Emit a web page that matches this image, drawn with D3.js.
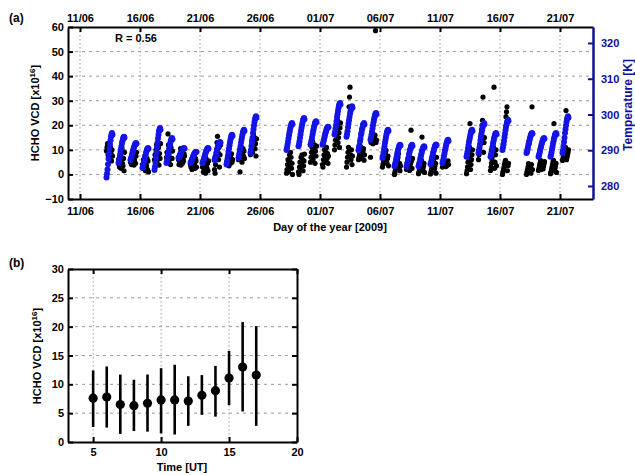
<!DOCTYPE html>
<html><head><meta charset="utf-8">
<script src="https://cdn.jsdelivr.net/npm/d3@7"></script>
<style>
body{margin:0;background:#fff;}
text{font-family:"Liberation Sans",Arial,sans-serif;font-weight:bold;}
</style>
</head><body>
<svg id="c" width="635" height="475"></svg>
<script>
// ---------- DATA ----------
const dayDates = ["2009-06-13","2009-06-14","2009-06-15","2009-06-16","2009-06-17","2009-06-18","2009-06-19","2009-06-20","2009-06-21","2009-06-22","2009-06-23","2009-06-24","2009-06-25",
"2009-06-28","2009-06-29","2009-06-30","2009-07-01","2009-07-02","2009-07-03","2009-07-04","2009-07-05","2009-07-06","2009-07-07","2009-07-08","2009-07-09","2009-07-10","2009-07-11",
"2009-07-13","2009-07-14","2009-07-15","2009-07-16","2009-07-18","2009-07-19","2009-07-20","2009-07-21"];
const hoursOfDay = [5,6,7,8,9,10,11,12,13,14,15,16,17];
const hchoVCD = [
[9.5,11,12.5,8,10,7,9,6,11,8.5,5.5,10,7.5],
[6,4,3,8,5,2.5,7,10.5,4.5,3.5,6.5,1.5,9],
[5,6.5,4,8,9.5,5.5,7,3.8,6,8.5,4.5,7.5,9],
[4,2.5,6,3,5,7.5,1.5,4.5,3.5,6.5,2,5.5,1],
[6,8,4,10,12,5,9,7,11,3.8,8.5,6.5,12.5],
[7,9,5,16.5,12,8,6,10,4,11,14,6.5,9.5],
[6,4,8,5,10.5,3.8,7,9,4.5,6.5,5.5,8.5,7.5],
[4,3,6,2,5,7.5,3.5,8,4.5,2.5,6.5,5.5,3],
[3,5,1,6,2,4,0.5,6.5,3.5,2.5,4.5,1.5,5.5],
[2,0.5,4,7,10,13,15.5,9,6,11,3,8,12],
[5,4,7,6,8,3.5,5.5,7.5,4.5,6.5,8.4,5,6],
[6,8,10,1,7,9,11,5,8.5,10.5,7.5,9.5,6.5],
[8,10,12,14,9,11,16.5,13,15,10.5,12.5,7.5,14.5],
[0.5,2,4,6,1,3,8,5,9,7,2.5,4.5,0],
[1,0,3,5,2,7,4,8,6,1.5,3.5,5.5,8.3],
[5,7,9,11,13.5,6,8,10,12,4.5,9.5,7.5,11.5],
[4,3,6,8,10,5,7,9,11,6.5,8.5,4.5,7.5],
[10,12,14,16,18,20,22,13,15,17,11,19,21],
[3,5,7,9,11,27.5,31.5,35.5,8,6,10,4,7.5],
[6,7,8,9,10,11,6.5,7.5,8.5,9.5,10.5,5.8,8],
[7,13,14,15,16.5,12.5,13.5,14.5,15.5,16,58.5,13,14],
[3,4,5,6,7,8,9,9.8,5.5,4.5,6.5,7.5,3.5],
[0,1,2,3,4,5,6,7,8.4,2.5,4.5,1.5,3.5],
[2,3,4,5,6,7,1.6,3.5,4.5,18,5.5,2.5,6.5],
[0.3,1,2,3,4,5,5.7,15.2,1.5,2.5,3.5,4.5,0.8],
[0.2,1,2,3,4,5,6,1.5,2.5,3.5,4.5,0.5,7],
[3,4,5,5.7,3.5,4.5,5.2,3.2,4.2,4.8,3.8,5.5,4],
[0.3,1.5,3,5,7,9,11,20.7,2,4,6,8,10],
[6,8,10,12,14,16,18,20,22,31.5,9,13,15],
[1.6,3,4.5,6,7.5,9,11,35.5,2.5,5,8,10,3.5],
[0,1,2,3,4,5,5.7,23.5,25.5,27.5,1.5,3.5,4.5],
[0,1,2,3,4.4,12.5,1.5,2.5,3.5,0.5,4,27.5,2],
[1.6,2.5,3.5,4.5,5.7,2,3,4,5,2.2,3.2,4.2,5.2],
[0.3,1,2,3,4,5,5.7,20.7,1.5,2.5,3.5,4.5,0.8],
[5.7,6.5,7.5,8.5,9.5,10.5,11,26,6,7,8,9,10]
];
const temperatureK = [
[282.4,283.4,284.6,286.1,287.6,289.1,290.5,291.7,292.8,293.8,294.4,294.8,294.3],
[286.4,287.0,287.7,288.6,289.5,290.4,291.2,292.0,292.6,293.2,293.6,293.8,293.5],
[287.3,287.7,288.1,288.7,289.3,289.8,290.4,290.8,291.2,291.6,291.9,292.0,291.8],
[285.0,285.4,286.0,286.7,287.4,288.0,288.6,289.2,289.7,290.2,290.4,290.6,290.4],
[284.5,285.4,286.6,288.0,289.4,290.8,292.1,293.3,294.3,295.3,295.8,296.2,295.7],
[286.4,287.0,287.7,288.5,289.3,290.2,291.0,291.7,292.3,292.8,293.2,293.4,293.1],
[287.8,288.0,288.3,288.6,289.0,289.3,289.6,289.9,290.2,290.4,290.5,290.6,290.5],
[286.4,286.7,287.0,287.4,287.7,288.1,288.5,288.8,289.1,289.3,289.5,289.6,289.5],
[286.4,286.7,287.2,287.7,288.2,288.7,289.1,289.6,289.9,290.3,290.5,290.6,290.4],
[287.3,287.7,288.2,288.8,289.4,290.0,290.6,291.1,291.5,291.9,292.2,292.3,292.1],
[286.0,286.7,287.5,288.5,289.5,290.5,291.4,292.2,293.0,293.6,294.1,294.3,294.0],
[287.8,288.4,289.2,290.2,291.1,292.1,292.9,293.7,294.4,295.1,295.5,295.7,295.4],
[289.2,290.0,291.1,292.3,293.5,294.8,295.9,296.9,297.9,298.7,299.2,299.5,299.1],
[290.1,290.7,291.5,292.4,293.3,294.2,295.0,295.7,296.4,297.0,297.4,297.6,297.3],
[291.1,291.7,292.5,293.5,294.4,295.4,296.2,297.0,297.7,298.4,298.8,299.0,298.7],
[291.5,292.0,292.7,293.5,294.3,295.1,295.8,296.5,297.0,297.6,297.9,298.1,297.8],
[291.5,291.9,292.4,293.0,293.6,294.3,294.8,295.3,295.8,296.2,296.4,296.6,296.4],
[294.4,295.1,296.0,297.0,298.1,299.2,300.1,301.0,301.8,302.5,302.9,303.2,302.8],
[293.8,294.5,295.3,296.4,297.4,298.4,299.3,300.2,300.9,301.6,302.0,302.3,301.9],
[290.0,290.8,291.4,292.5,293.2,294.3,294.9,295.8,296.3,297.1,297.3,297.6,297.2],
[292.9,293.5,294.3,295.2,296.1,297.0,297.8,298.5,299.2,299.8,300.2,300.4,300.1],
[287.8,288.4,289.2,290.2,291.1,292.1,292.9,293.7,294.4,295.1,295.5,295.7,295.4],
[285.5,286.0,286.6,287.3,288.0,288.7,289.4,290.0,290.5,291.0,291.3,291.5,291.3],
[285.4,286.1,286.5,287.4,287.9,288.8,289.3,290.1,290.4,291.1,291.2,291.5,291.2],
[285.5,286.0,286.5,287.2,287.9,288.5,289.1,289.7,290.2,290.6,290.9,291.1,290.9],
[286.1,286.5,287.1,287.8,288.4,289.1,289.7,290.2,290.7,291.2,291.4,291.6,291.4],
[286.4,286.9,287.6,288.4,289.1,289.9,290.6,291.3,291.9,292.4,292.7,292.9,292.6],
[288.2,288.8,289.6,290.5,291.4,292.3,293.1,293.8,294.5,295.1,295.5,295.7,295.4],
[289.2,289.9,290.7,291.7,292.7,293.7,294.7,295.5,296.3,296.9,297.3,297.6,297.3],
[288.2,288.7,289.4,290.2,291.0,291.8,292.5,293.2,293.7,294.3,294.6,294.8,294.5],
[290.1,290.8,291.6,292.6,293.6,294.6,295.6,296.4,297.2,297.8,298.2,298.5,298.2],
[289.2,289.6,290.2,290.9,291.6,292.2,292.8,293.4,293.9,294.4,294.6,294.8,294.6],
[288.2,288.6,289.1,289.8,290.4,291.0,291.6,292.1,292.6,293.0,293.2,293.4,293.2],
[288.2,288.7,289.4,290.2,291.0,291.8,292.5,293.2,293.7,294.3,294.6,294.8,294.5],
[289.2,290.0,291.1,292.3,293.5,294.8,295.9,296.9,297.9,298.7,299.2,299.5,299.1]
];
const dateTicks = ["2009-06-11","2009-06-16","2009-06-21","2009-06-26","2009-07-01","2009-07-06","2009-07-11","2009-07-16","2009-07-21"];
const hchoTicks = [-10,0,10,20,30,40,50,60];
const tempTicks = [280,290,300,310,320];
const correlationLabel = "R = 0.56";

// panel (b)
const hourUT = [5,6,7,8,9,10,11,12,13,14,15,16,17];
const meanVCD = [7.6,7.8,6.5,6.3,6.7,7.3,7.3,7.1,8.1,8.9,11.1,13.0,11.6];
const lowVCD  = [2.6,2.5,1.4,1.9,1.8,1.5,1.3,2.8,4.7,4.4,6.4,5.3,2.8];
const highVCD = [12.4,13.1,11.7,10.8,11.7,12.8,13.4,11.4,11.6,13.2,15.8,20.8,20.1];
const timeTicks = [5,10,15,20];
const vcdTicks = [0,5,10,15,20,25,30];

// ---------- DRAW ----------
const svg = d3.select("#c");
const parse = d3.utcParse("%Y-%m-%d");
const fmt = d3.utcFormat("%d/%m");
const t0 = Date.UTC(2009,0,1);
const doy = s => (parse(s) - t0)/864e5 + 1;

const BLUE = "#1414e6", AXBLUE = "#10109a", GRID = "#9a9a9a";

// Panel (a)
const A = {l:68, r:593, t:27, b:199};
const x = d3.scaleLinear().domain([161, 204.75]).range([A.l, A.r]);
const y = d3.scaleLinear().domain([-10, 60]).range([A.b, A.t]);
const yT = d3.scaleLinear().domain([276.36, 324.47]).range([A.b, A.t]);
const tickDoys = dateTicks.map(doy);

const gA = svg.append("g");
// grid
gA.selectAll(".gx").data(tickDoys).join("line")
  .attr("x1", d=>x(d)).attr("x2", d=>x(d)).attr("y1", A.t).attr("y2", A.b)
  .attr("stroke", GRID).attr("stroke-width",1).attr("stroke-dasharray","1.5,2.5");
gA.selectAll(".gy").data(hchoTicks.filter(v=>v>-10 && v<60)).join("line")
  .attr("x1", A.l).attr("x2", A.r).attr("y1", d=>y(d)).attr("y2", d=>y(d))
  .attr("stroke", GRID).attr("stroke-width",1).attr("stroke-dasharray","3,4");

// points
const hPts = [], tPts = [];
dayDates.forEach((ds,i)=>{
  const d0 = doy(ds);
  hoursOfDay.forEach((h,j)=>{
    hPts.push({x:d0 + h/24, v:hchoVCD[i][j]});
    tPts.push({x:d0 + h/24, v:temperatureK[i][j]});
  });
});
gA.append("g").selectAll("circle").data(hPts).join("circle")
  .attr("cx", d=>x(d.x)).attr("cy", d=>y(d.v)).attr("r", 2.6).attr("fill", "#000");
gA.append("g").selectAll("circle").data(tPts).join("circle")
  .attr("cx", d=>x(d.x)).attr("cy", d=>yT(d.v)).attr("r", 3).attr("fill", BLUE);

function styleAxis(g, color){
  g.selectAll("path").attr("stroke", color).attr("stroke-width", 2);
  g.selectAll("line").attr("stroke", color).attr("stroke-width", 2);
  g.selectAll("text").attr("fill", color).style("font-size","11px").style("font-family",'"Liberation Sans",Arial,sans-serif').style("font-weight","bold");
}
const labelOf = d => fmt(new Date(t0 + (d-1)*864e5));
const axB = gA.append("g").attr("transform",`translate(0,${A.b})`)
  .call(d3.axisBottom(x).tickValues(tickDoys).tickFormat(labelOf).tickSizeInner(-5).tickSizeOuter(0).tickPadding(8));
styleAxis(axB, "#000");
const axT = gA.append("g").attr("transform",`translate(0,${A.t})`)
  .call(d3.axisTop(x).tickValues(tickDoys).tickFormat(labelOf).tickSizeInner(-5).tickSizeOuter(0).tickPadding(5));
styleAxis(axT, "#000");
const axL = gA.append("g").attr("transform",`translate(${A.l},0)`)
  .call(d3.axisLeft(y).tickValues(hchoTicks).tickSizeInner(-5).tickSizeOuter(0).tickPadding(4));
styleAxis(axL, "#000");
const axR = gA.append("g").attr("transform",`translate(${A.r},0)`)
  .call(d3.axisRight(yT).tickValues(tempTicks).tickSizeInner(-5).tickSizeOuter(0).tickPadding(8));
styleAxis(axR, AXBLUE);
axR.select("path").attr("stroke-width", 2.5);

// labels panel (a)
svg.append("text").attr("x", 9).attr("y", 22).style("font-size","12px").text("(a)");
svg.append("text").attr("x", 115).attr("y", 42).style("font-size","11px").text(correlationLabel);
svg.append("text").attr("x", 330).attr("y", 231).attr("text-anchor","middle").style("font-size","11px").text("Day of the year [2009]");
function vcdLabel(cx, cy){
  const t = svg.append("text").attr("transform",`translate(${cx},${cy}) rotate(-90)`).attr("text-anchor","middle").style("font-size","11px");
  t.append("tspan").text("HCHO VCD [x10");
  t.append("tspan").attr("dy",-4).style("font-size","8px").text("16");
  t.append("tspan").attr("dy",4).text("]");
}
vcdLabel(39, 113);
svg.append("text").attr("transform","translate(632,105) rotate(-90)").attr("text-anchor","middle")
  .attr("fill", AXBLUE).style("font-size","12px").text("Temperature [K]");

// Panel (b)
const B = {l:68, r:297, t:269, b:442};
const xb = d3.scaleLinear().domain([3.15, 20]).range([B.l, B.r]);
const yb = d3.scaleLinear().domain([0, 30]).range([B.b, B.t]);
const gB = svg.append("g");
gB.selectAll(".gx").data(timeTicks.filter(v=>v<20)).join("line")
  .attr("x1", d=>xb(d)).attr("x2", d=>xb(d)).attr("y1", B.t).attr("y2", B.b)
  .attr("stroke", GRID).attr("stroke-width",1).attr("stroke-dasharray","1.5,2.5");
gB.selectAll(".gy").data(vcdTicks.filter(v=>v>0 && v<30)).join("line")
  .attr("x1", B.l).attr("x2", B.r).attr("y1", d=>yb(d)).attr("y2", d=>yb(d))
  .attr("stroke", GRID).attr("stroke-width",1).attr("stroke-dasharray","3,4");
const bData = hourUT.map((h,i)=>({h, m:meanVCD[i], lo:lowVCD[i], hi:highVCD[i]}));
gB.selectAll(".eb").data(bData).join("line")
  .attr("x1", d=>xb(d.h)).attr("x2", d=>xb(d.h)).attr("y1", d=>yb(d.lo)).attr("y2", d=>yb(d.hi))
  .attr("stroke","#000").attr("stroke-width",2.6);
gB.selectAll(".dot").data(bData).join("circle")
  .attr("cx", d=>xb(d.h)).attr("cy", d=>yb(d.m)).attr("r", 4.6).attr("fill","#000");

const bxB = gB.append("g").attr("transform",`translate(0,${B.b})`)
  .call(d3.axisBottom(xb).tickValues(timeTicks).tickSizeInner(-5).tickSizeOuter(0).tickPadding(6));
styleAxis(bxB, "#000");
const bxT = gB.append("g").attr("transform",`translate(0,${B.t})`)
  .call(d3.axisTop(xb).tickValues(timeTicks).tickFormat("").tickSizeInner(-5).tickSizeOuter(0));
styleAxis(bxT, "#000");
const byL = gB.append("g").attr("transform",`translate(${B.l},0)`)
  .call(d3.axisLeft(yb).tickValues(vcdTicks).tickSizeInner(-5).tickSizeOuter(0).tickPadding(4));
styleAxis(byL, "#000");
const byR = gB.append("g").attr("transform",`translate(${B.r},0)`)
  .call(d3.axisRight(yb).tickValues(vcdTicks).tickFormat("").tickSizeInner(-5).tickSizeOuter(0));
styleAxis(byR, "#000");

svg.append("text").attr("x", 9).attr("y", 267).style("font-size","12px").text("(b)");
svg.append("text").attr("x", 182).attr("y", 471).attr("text-anchor","middle").style("font-size","11px").text("Time [UT]");
vcdLabel(41, 356);
</script>
</body></html>
